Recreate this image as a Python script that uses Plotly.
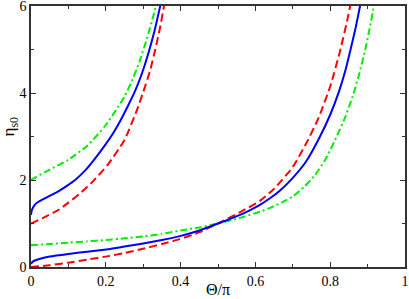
import plotly.graph_objects as go

# Red dashed branches
red_low_x = [0, 0.05, 0.10, 0.15, 0.207, 0.25, 0.305, 0.35, 0.398, 0.45, 0.50, 0.559, 0.612, 0.65, 0.70, 0.737, 0.77, 0.80, 0.826, 0.845, 0.858, 0.87]
red_low_y = [0, 0.04, 0.10, 0.17, 0.25, 0.32, 0.43, 0.53, 0.64, 0.80, 1.0, 1.26, 1.52, 1.80, 2.30, 2.86, 3.45, 4.15, 4.95, 5.65, 6.2, 6.7]
red_up_x = [0, 0.03, 0.073, 0.10, 0.135, 0.167, 0.206, 0.25, 0.283, 0.30, 0.318, 0.332, 0.345, 0.356, 0.365]
red_up_y = [1.0, 1.12, 1.31, 1.48, 1.72, 1.98, 2.36, 2.92, 3.6, 4.02, 4.5, 4.99, 5.5, 6.02, 6.5]

# Blue solid branches
blue_low_x = [0, 0.003, 0.01, 0.02, 0.05, 0.10, 0.15, 0.207, 0.25, 0.30, 0.35, 0.398, 0.45, 0.50, 0.559, 0.586, 0.612, 0.639, 0.666, 0.70, 0.735, 0.768, 0.80, 0.824, 0.84, 0.853, 0.868, 0.881, 0.89]
blue_low_y = [0.07, 0.11, 0.15, 0.18, 0.24, 0.30, 0.35, 0.41, 0.47, 0.54, 0.62, 0.71, 0.84, 1.0, 1.20, 1.31, 1.43, 1.58, 1.76, 2.05, 2.42, 2.92, 3.5, 4.05, 4.5, 4.95, 5.5, 6.05, 6.45]
blue_up_x = [0, 0.002, 0.01, 0.02, 0.037, 0.055, 0.073, 0.095, 0.118, 0.145, 0.170, 0.197, 0.22, 0.24, 0.259, 0.279, 0.297, 0.314, 0.33, 0.345, 0.353]
blue_up_y = [1.2, 1.3, 1.43, 1.5, 1.58, 1.66, 1.74, 1.86, 2.0, 2.22, 2.48, 2.79, 3.08, 3.38, 3.7, 4.06, 4.46, 4.92, 5.42, 5.98, 6.3]

# Green dash-dot branches
green_low_x = [0, 0.05, 0.10, 0.15, 0.20, 0.25, 0.30, 0.35, 0.40, 0.45, 0.50, 0.559, 0.612, 0.639, 0.67, 0.701, 0.73, 0.76, 0.787, 0.813, 0.838, 0.86, 0.878, 0.893, 0.906, 0.917, 0.925]
green_low_y = [0.5, 0.53, 0.56, 0.59, 0.62, 0.66, 0.70, 0.76, 0.84, 0.91, 1.0, 1.13, 1.27, 1.36, 1.48, 1.63, 1.84, 2.12, 2.47, 2.92, 3.4, 3.92, 4.45, 4.97, 5.5, 6.02, 6.4]
green_up_x = [0, 0.012, 0.05, 0.099, 0.152, 0.197, 0.233, 0.25, 0.27, 0.29, 0.31, 0.328, 0.338]
green_up_y = [2.0, 2.06, 2.24, 2.46, 2.80, 3.23, 3.68, 3.92, 4.28, 4.72, 5.25, 5.8, 6.15]

x_ticks = [0, 0.2, 0.4, 0.6, 0.8, 1]
x_tick_labels = ["0", "0.2", "0.4", "0.6", "0.8", "1"]
y_ticks = [0, 2, 4, 6]
y_tick_labels = ["0", "2", "4", "6"]

BLUE = "#0000ff"
RED = "#ff0000"
GREEN = "#00ee00"

fig = go.Figure()
series = [
    (green_low_x, green_low_y, GREEN, "7px,3px,2px,3px"),
    (green_up_x, green_up_y, GREEN, "7px,3px,2px,3px"),
    (red_low_x, red_low_y, RED, "8px,4px"),
    (red_up_x, red_up_y, RED, "8px,4px"),
    (blue_low_x, blue_low_y, BLUE, "solid"),
    (blue_up_x, blue_up_y, BLUE, "solid"),
]
for xs, ys, col, dash in series:
    fig.add_trace(go.Scatter(x=xs, y=ys, mode="lines",
                             line=dict(color=col, width=2, dash=dash, shape="spline", smoothing=0.5),
                             showlegend=False, hoverinfo="skip"))

SERIF = "Liberation Serif, Times New Roman, serif"
tick_font = dict(family=SERIF, size=14, color="black")
axis_common = dict(showgrid=False, zeroline=False, showline=True, linecolor="#333333", linewidth=1.5,
                   mirror="ticks", ticks="inside", ticklen=5, tickwidth=1.2, tickcolor="#333333",
                   tickfont=tick_font, ticklabeloverflow="allow", automargin=False)
fig.update_layout(
    template="none",
    width=409, height=299,
    margin=dict(l=31, r=4, t=6, b=32),
    paper_bgcolor="white", plot_bgcolor="white",
    font=tick_font,
    showlegend=False,
    xaxis=dict(range=[0, 1], tickvals=x_ticks, ticktext=x_tick_labels,
               minor=dict(dtick=0.1, ticks="inside", ticklen=3, tickcolor="#333333", tickwidth=1.2),
               **axis_common),
    yaxis=dict(range=[0, 6], tickvals=y_ticks, ticktext=y_tick_labels,
               minor=dict(dtick=1, ticks="inside", ticklen=3, tickcolor="#333333", tickwidth=1.2),
               **axis_common),
    annotations=[
        dict(text="Θ/π", xref="paper", yref="paper", x=0.5, y=-0.087, showarrow=False,
             xanchor="center", yanchor="middle", font=dict(family=SERIF, size=16, color="black")),
        dict(text="η<sub>s0</sub>", xref="paper", yref="paper", x=-0.055, y=0.54, showarrow=False,
             textangle=-90, xanchor="center", yanchor="middle",
             font=dict(family=SERIF, size=17, color="black")),
    ],
)
fig.write_html("out.html", config={"displayModeBar": False},
               post_script="document.body.style.margin='0';document.body.style.padding='0';"
                           "document.body.style.overflow='hidden';")
